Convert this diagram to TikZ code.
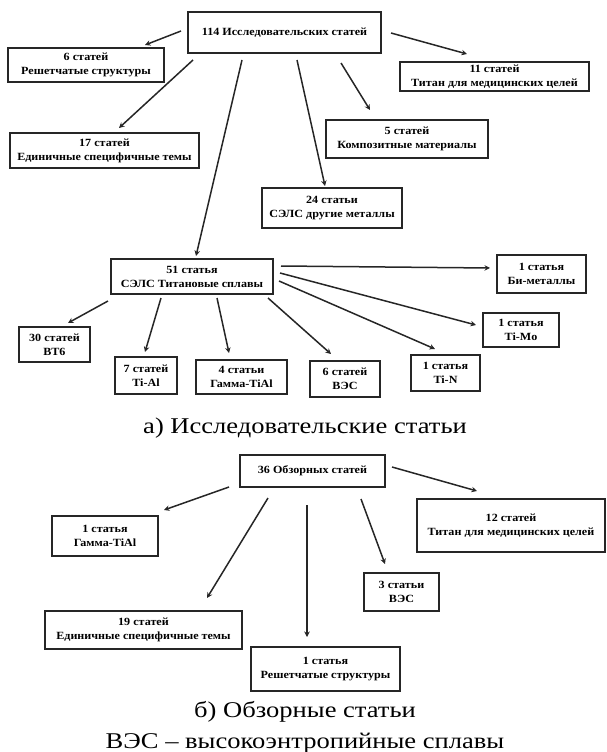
\documentclass[tikz,border=0pt]{standalone}
\usepackage{fontspec}
\setmainfont{Liberation Serif}
\newfontfamily\boxfont[FakeStretch=1.1]{Liberation Serif}
\newfontfamily\capfont[FakeStretch=1.18]{Liberation Serif}
\usetikzlibrary{arrows.meta}
\tikzset{
  box/.style={draw=black!85, line width=2pt, align=center, inner sep=0pt,
    font=\boxfont\bfseries\fontsize{11}{14}\selectfont},
  arr/.style={-{Stealth[length=5.5pt,width=5.5pt]}, line width=1.5pt, draw=black!85},
  captext/.style={anchor=base, font=\capfont\fontsize{22.5}{26}\selectfont}
}
\newcommand\bx[6]{\node[box, minimum width={#4-#2}, minimum height={#5-#3}] (#1) at ({(#2+#4)/2},{(#3+#5)/2}) {#6};}
\newcommand\ar[4]{\coordinate (#1-#2-s) at (#3); \coordinate (#1-#2-e) at (#4); \draw[arr] (#1-#2-s) -- (#1-#2-e);}
\begin{document}
\begin{tikzpicture}[x=1pt,y=-1pt]
\useasboundingbox (0,0) rectangle (606,752);
% ---- a) research articles
\bx{root}{188}{12}{381}{53}{114 Исследовательских статей}
\bx{n6}{8}{48}{164}{82}{6 статей\\Решетчатые структуры}
\bx{n17}{10}{133}{199}{168}{17 статей\\Единичные специфичные темы}
\bx{n11}{400}{62}{589}{91}{11 статей\\Титан для медицинских целей}
\bx{n5}{326}{120}{488}{158}{5 статей\\Композитные материалы}
\bx{n24}{262}{188}{402}{228}{24 статьи\\СЭЛС другие металлы}
\bx{n51}{111}{259}{273}{294}{51 статья\\СЭЛС Титановые сплавы}
\bx{n30}{19}{327}{90}{362}{30 статей\\ВТ6}
\bx{ntial}{115}{357}{177}{394}{7 статей\\Ti-Al}
\bx{ngam}{196}{360}{287}{394}{4 статьи\\Гамма-TiAl}
\bx{nves}{310}{361}{380}{397}{6 статей\\ВЭС}
\bx{ntin}{411}{355}{480}{391}{1 статья\\Ti-N}
\bx{ntimo}{483}{313}{559}{347}{1 статья\\Ti-Mo}
\bx{nbi}{497}{255}{586}{293}{1 статья\\Би-металлы}
\ar{root}{n6}{181,31}{145,45}
\ar{root}{n17}{193,60}{119,128}
\ar{root}{n51}{242,60}{196,256}
\ar{root}{n24}{297,60}{325,186}
\ar{root}{n5}{341,63}{370,110}
\ar{root}{n11}{391,33}{467,54}
\ar{n51}{n30}{108,301}{68,323}
\ar{n51}{ntial}{161,298}{145,352}
\ar{n51}{ngam}{217,298}{229,353}
\ar{n51}{nves}{268,298}{331,354}
\ar{n51}{ntin}{279,281}{435,349}
\ar{n51}{ntimo}{280,273}{476,325}
\ar{n51}{nbi}{281,266}{490,268}
\node[captext] (capa) at (305,433) {а) Исследовательские статьи};
% ---- b) reviews
\bx{r2}{240}{455}{385}{487}{\raisebox{-4pt}{36 Обзорных статей}}
\bx{m1}{52}{516}{158}{556}{1 статья\\Гамма-TiAl}
\bx{m19}{45}{611}{242}{649}{19 статей\\Единичные специфичные темы}
\bx{m1r}{251}{647}{400}{691}{1 статья\\Решетчатые структуры}
\bx{m3}{364}{573}{439}{611}{3 статьи\\ВЭС}
\bx{m12}{417}{499}{605}{552}{12 статей\\Титан для медицинских целей}
\ar{r2}{m1}{229,487}{164,510}
\ar{r2}{m19}{268,498}{207,598}
\ar{r2}{m1r}{307,505}{307,637}
\ar{r2}{m3}{361,499}{385,564}
\ar{r2}{m12}{392,467}{477,491}
\node[captext] (capb) at (305,717) {б) Обзорные статьи};
\node[captext] (capc) at (305,748) {ВЭС – высокоэнтропийные сплавы};
\end{tikzpicture}
\end{document}
